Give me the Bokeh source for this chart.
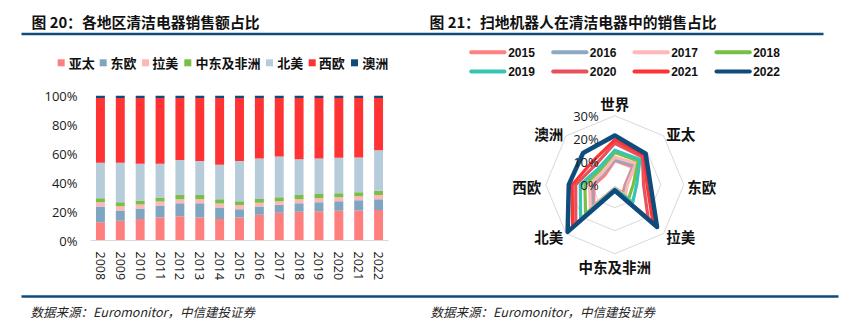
import math
from bokeh.plotting import figure
from bokeh.models import Range1d, FixedTicker, PrintfTickFormatter, ColumnDataSource
from bokeh.core.properties import value
from bokeh.embed import file_html
from bokeh.resources import INLINE

# ---------------- data: figure 20 (stacked shares, %) ----------------
years_bar = ["2008", "2009", "2010", "2011", "2012", "2013", "2014", "2015",
             "2016", "2017", "2018", "2019", "2020", "2021", "2022"]
regions_bar = ["亚太", "东欧", "拉美", "中东及非洲", "北美", "西欧", "澳洲"]
apac = [12.6, 13.6, 14.9, 15.9, 16.8, 15.9, 14.9, 15.9, 17.7, 19.1, 19.8, 20.2, 20.5, 20.7, 21.1]
east_eu = [10.8, 7.1, 7.2, 8.2, 8.9, 9.8, 7.9, 5.7, 5.7, 5.5, 5.9, 6.2, 6.6, 7.1, 7.4]
latam = [3.0, 3.0, 2.7, 2.8, 2.8, 2.8, 2.7, 2.8, 2.6, 2.5, 2.8, 2.8, 2.8, 2.8, 2.8]
mea = [2.8, 2.7, 2.8, 2.8, 2.8, 2.8, 3.0, 2.7, 2.7, 2.8, 2.8, 2.8, 2.7, 2.7, 3.0]
north_am = [24.4, 27.2, 25.3, 23.2, 24.3, 23.6, 23.7, 27.8, 27.9, 28.0, 24.8, 24.6, 24.4, 23.9, 28.0]
west_eu = [44.6, 44.6, 45.3, 45.3, 42.6, 43.3, 46.0, 43.3, 41.6, 40.3, 42.1, 41.6, 41.2, 41.0, 35.9]
australia = [1.8, 1.8, 1.8, 1.8, 1.8, 1.8, 1.8, 1.8, 1.8, 1.8, 1.8, 1.8, 1.8, 1.8, 1.8]
y_ticks = [0, 20, 40, 60, 80, 100]

# ---------------- data: figure 21 (robot vacuum share, %) ----------------
radar_axes = ["世界", "亚太", "东欧", "拉美", "中东及非洲", "北美", "西欧", "澳洲"]
radar_years = ["2015", "2016", "2017", "2018", "2019", "2020", "2021", "2022"]
r2015 = [10.5, 11.0, 4.5, 5.0, 1.5, 13.0, 9.0, 6.0]
r2016 = [11.0, 12.0, 5.0, 6.0, 1.5, 14.0, 10.0, 7.0]
r2017 = [12.0, 13.0, 5.5, 6.5, 1.5, 15.0, 11.0, 7.5]
r2018 = [14.0, 14.5, 8.0, 8.5, 2.0, 18.0, 13.0, 9.0]
r2019 = [15.0, 15.5, 9.5, 11.0, 2.0, 21.0, 15.0, 10.0]
r2020 = [18.0, 17.0, 12.5, 20.5, 2.5, 24.0, 17.0, 12.0]
r2021 = [19.5, 18.0, 14.0, 23.5, 2.5, 26.0, 18.5, 14.0]
r2022 = [21.4, 19.0, 15.5, 26.0, 2.5, 29.0, 20.0, 19.5]
radar_series = [r2015, r2016, r2017, r2018, r2019, r2020, r2021, r2022]
radar_grid = [10, 20, 30]
radar_tick_vals = [0, 10, 20, 30]
radar_tick_labels = ["0%", "10%", "20%", "30%"]

# ---------------- styles ----------------
BLUE = "#0F4C7E"
bar_colors = ["#FF7F7F", "#7FA6C1", "#FFB6B6", "#77BF45", "#B6CCDA", "#FF3333", "#0E4C7D"]
year_colors = ["#FF8080", "#8DAAC2", "#FFB8B8", "#77BF45", "#36C5B5", "#E8505B", "#FF3333", "#0E4C7D"]
CJK = value("Noto Sans CJK SC")

W, H = 855, 333
FL, FR, FT, FB = 90, 388, 95, 240      # bar-chart frame in canvas pixels
S = 2.3                                  # radar: px per percentage point
RCX, RCY = 614.3, 184.2                  # radar centre in canvas pixels

idx = list(range(len(years_bar)))
p = figure(width=W, height=H, x_range=Range1d(-0.5, len(years_bar) - 0.5), y_range=Range1d(0, 100),
           toolbar_location=None, output_backend="svg",
           min_border_left=FL, min_border_right=W - FR, min_border_top=FT, min_border_bottom=H - FB)
p.outline_line_color = None
p.xgrid.visible = False
p.ygrid.visible = False

# canvas-pixel ranges and radar ranges
p.extra_x_ranges = {"cx": Range1d(FL, FR), "rx": Range1d((FL - RCX) / S, (FR - RCX) / S)}
p.extra_y_ranges = {"cy": Range1d(FB, FT), "ry": Range1d((RCY - FB) / S, (RCY - FT) / S)}
CV = dict(x_range_name="cx", y_range_name="cy", level="overlay")
RD = dict(x_range_name="rx", y_range_name="ry", level="overlay")

# ---------------- stacked bars ----------------
src = ColumnDataSource(dict(pos=idx, 亚太=apac, 东欧=east_eu, 拉美=latam, 中东及非洲=mea,
                            北美=north_am, 西欧=west_eu, 澳洲=australia))
p.vbar_stack(regions_bar, x="pos", width=0.45, fill_color=bar_colors, line_color=None, source=src)

p.yaxis.ticker = FixedTicker(ticks=y_ticks)
p.yaxis.formatter = PrintfTickFormatter(format="%d%%")
p.yaxis.axis_line_color = None
p.yaxis.major_tick_line_color = None
p.yaxis.minor_tick_line_color = None
p.yaxis.major_tick_out = 0
p.yaxis.major_tick_in = 0
p.yaxis.major_label_standoff = 13
p.yaxis.major_label_text_font = "Open Sans"
p.yaxis.major_label_text_font_size = "13px"
p.yaxis.major_label_text_color = "#1a1a1a"
p.xaxis.ticker = FixedTicker(ticks=idx, minor_ticks=[])
p.xaxis.major_label_overrides = {i: y for i, y in zip(idx, years_bar)}
p.xaxis.axis_line_color = "#D9D9D9"
p.xaxis.axis_line_width = 1
p.xaxis.major_tick_line_color = None
p.xaxis.minor_tick_line_color = None
p.xaxis.major_tick_out = 0
p.xaxis.major_tick_in = 0
p.xaxis.major_label_orientation = "vertical"
p.xaxis.major_label_standoff = 11
p.xaxis.major_label_text_font = "Open Sans"
p.xaxis.major_label_text_font_size = "12.5px"
p.xaxis.major_label_text_color = "#1a1a1a"

# ---------------- titles and rules ----------------
p.segment(x0=[21], y0=[33.5], x1=[823], y1=[33.5], line_color=BLUE, line_width=2.5, **CV)
p.segment(x0=[21], y0=[296], x1=[838], y1=[296], line_color=BLUE, line_width=2.5, **CV)
p.text(x=[31, 429], y=[21, 21],
       text=["图 20：各地区清洁电器销售额占比", "图 21：扫地机器人在清洁电器中的销售占比"],
       text_font=CJK, text_font_style="bold", text_font_size="14.8px",
       text_color="#111111", text_align="left", text_baseline="middle", **CV)
p.text(x=[30, 430], y=[311, 311], text=["数据来源：Euromonitor，中信建投证券"] * 2,
       text_font=CJK, text_font_style="italic", text_font_size="12.5px", text_color="#262626",
       text_align="left", text_baseline="middle", **CV)

# ---------------- bar legend ----------------
sq_x = [60.7, 102.7, 145.0, 187.3, 269.0, 311.7, 354.0]
lab_x = [68.3, 110.0, 151.7, 195.0, 276.7, 318.3, 361.7]
LEG_Y = 62.3
p.quad(left=[x - 3.5 for x in sq_x], right=[x + 3.5 for x in sq_x],
       top=[LEG_Y - 3.5] * 7, bottom=[LEG_Y + 3.5] * 7,
       fill_color=bar_colors, line_color=None, **CV)
p.text(x=lab_x, y=[LEG_Y] * 7, text=regions_bar, text_font=CJK, text_font_style="bold",
       text_font_size="13px", text_color="#111111", text_align="left", text_baseline="middle", **CV)

# ---------------- radar legend ----------------
col_x0 = [470.7, 552.7, 634.0, 716.0]
col_len = 33.3
col_tx = [507.7, 589.3, 670.7, 752.7]
row_y = [51.7, 71.0]
lx0, lx1, ly, tx = [], [], [], []
for i in range(len(radar_years)):
    c, r = i % 4, i // 4
    lx0.append(col_x0[c]); lx1.append(col_x0[c] + col_len); ly.append(row_y[r]); tx.append(col_tx[c])
p.segment(x0=lx0, y0=ly, x1=lx1, y1=ly, line_color=year_colors, line_width=4, line_cap="round", **CV)
p.text(x=tx, y=ly, text=radar_years, text_font=value("Liberation Sans"), text_font_style="bold",
       text_font_size="12px", text_color="#111111", text_align="left", text_baseline="middle", **CV)

# ---------------- radar ----------------
n = len(radar_axes)
ang = [2 * math.pi * i / n for i in range(n)]
for g in radar_grid:
    p.patch([g * math.sin(a) for a in ang], [g * math.cos(a) for a in ang],
            fill_color=None, line_color="#D9D9D9", line_width=1, **RD)

for vals, col, yr in zip(radar_series, year_colors, radar_years):
    lw = 4.5 if yr == "2022" else 3.2
    p.patch([v * math.sin(a) for v, a in zip(vals, ang)],
            [v * math.cos(a) for v, a in zip(vals, ang)],
            fill_color=None, line_color=col, line_width=lw, line_join="round", **RD)

p.text(x=[0] * len(radar_tick_vals), y=radar_tick_vals, text=radar_tick_labels, x_offset=-16,
       text_font=value("Open Sans"), text_font_size="13px", text_color="#1a1a1a",
       text_align="right", text_baseline="middle", **RD)

lab_dx = [0, 66, 87, 66, 0, -66, -88, -66]
lab_dy = [-81, -51, 2, 52, 82, 52, 2, -51]
p.text(x=[0] * n, y=[0] * n, text=radar_axes, x_offset=lab_dx, y_offset=lab_dy,
       text_font=CJK, text_font_style="bold", text_font_size="14.5px", text_color="#111111",
       text_align="center", text_baseline="middle", **RD)

open("out.html", "w").write(file_html(p, INLINE))
